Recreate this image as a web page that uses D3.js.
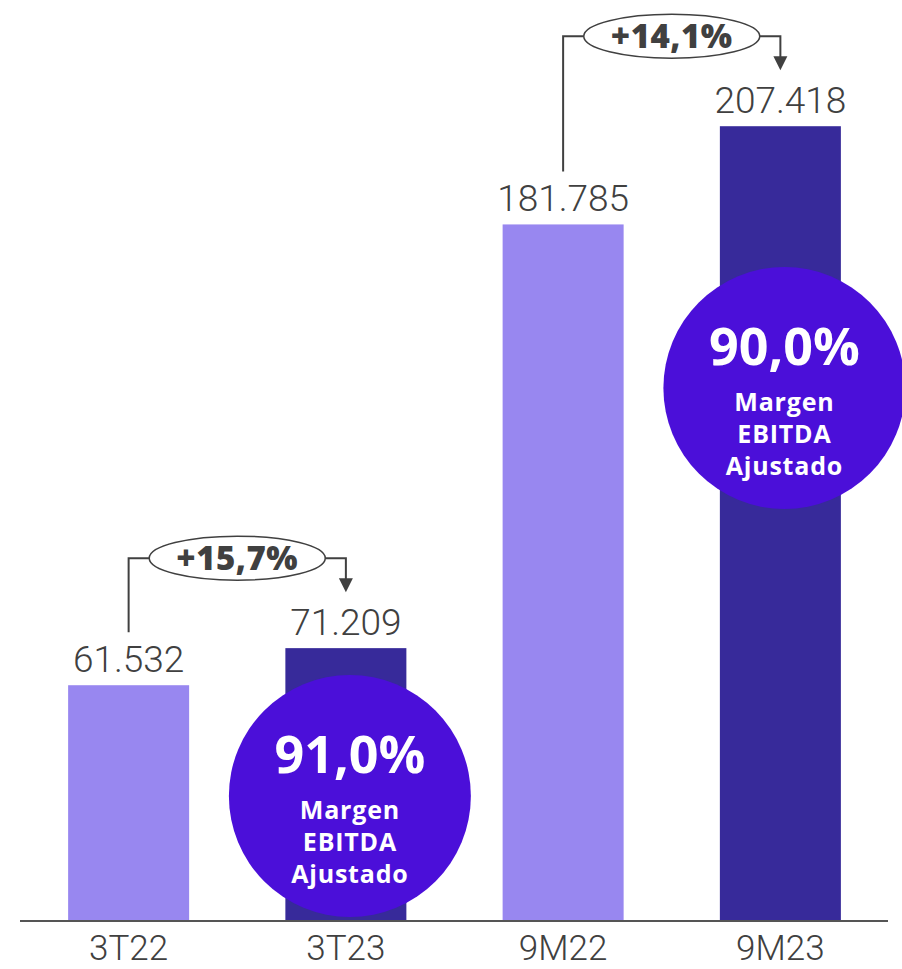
<!DOCTYPE html>
<html>
<head>
<meta charset="utf-8">
<script src="https://cdn.jsdelivr.net/npm/d3@7/dist/d3.min.js"></script>
<style>
  html, body { margin: 0; padding: 0; background: #fff; }
  svg { display: block; }
</style>
</head>
<body>
<svg id="chart" width="902" height="969"></svg>
<script>
// EBITDA ajustado (R$ mil) por período
const categories = ["3T22", "3T23", "9M22", "9M23"];
const values = [61532, 71209, 181785, 207418];
const valueLabels = ["61.532", "71.209", "181.785", "207.418"];
const isCurrent = [false, true, false, true];

// Margem EBITDA ajustado nos períodos atuais
const marginCategories = ["3T23", "9M23"];
const marginLabels = ["91,0%", "90,0%"];
const marginCaption = ["Margen", "EBITDA", "Ajustado"];

// Crescimento entre períodos comparáveis
const growthFrom = ["3T22", "9M22"];
const growthTo = ["3T23", "9M23"];
const growthLabels = ["+15,7%", "+14,1%"];

const baseY = 921;
const svg = d3.select("#chart");

const x = d3.scaleBand()
  .domain(categories)
  .range([20, 889])
  .paddingInner(0.443)
  .paddingOuter(0.2215);

const y = d3.scaleLinear()
  .domain([0, 220000])
  .range([baseY, baseY - 843]);

const valueOf = c => values[categories.indexOf(c)];
const cx = c => x(c) + x.bandwidth() / 2;

const light = "#9887f0", dark = "#372a9a", disc = "#4b0fd9", ink = "#404040";
const font = "Roboto, 'Open Sans', sans-serif";
const boldFont = "'Open Sans', 'Noto Sans', sans-serif";

// bars
svg.append("g").selectAll("rect")
  .data(categories)
  .join("rect")
  .attr("x", d => x(d))
  .attr("width", x.bandwidth())
  .attr("y", d => y(valueOf(d)))
  .attr("height", d => baseY - y(valueOf(d)))
  .attr("fill", (d, i) => isCurrent[i] ? dark : light);

// baseline
svg.append("line")
  .attr("x1", 20).attr("x2", 888)
  .attr("y1", baseY).attr("y2", baseY)
  .attr("stroke", "#555").attr("stroke-width", 2);

// category axis
const xAxis = d3.axisBottom(x).tickSize(0).tickPadding(0);
const axisG = svg.append("g").attr("transform", `translate(0,${baseY})`).call(xAxis);
axisG.select(".domain").remove();
axisG.selectAll("text")
  .attr("y", 39)
  .attr("dy", 0)
  .attr("font-family", font)
  .attr("font-weight", 300)
  .attr("font-size", 35)
  .attr("fill", ink);

// value labels
svg.append("g").selectAll("text")
  .data(categories)
  .join("text")
  .attr("x", d => cx(d))
  .attr("y", d => y(valueOf(d)) - 13)
  .attr("text-anchor", "middle")
  .attr("font-family", font)
  .attr("font-weight", 300)
  .attr("font-size", 37)
  .attr("fill", ink)
  .text((d, i) => valueLabels[i]);

// margin discs
const discR = 121;
const discCy = c => c === "3T23" ? 796 : 388;
const discs = svg.append("g").selectAll("g")
  .data(marginCategories)
  .join("g")
  .attr("transform", d => `translate(${cx(d) + 4},${discCy(d)})`);
discs.append("circle").attr("r", discR).attr("fill", disc);
discs.append("text")
  .attr("y", -23)
  .attr("text-anchor", "middle")
  .attr("font-family", boldFont)
  .attr("font-weight", 700)
  .attr("font-size", 52)
  .attr("fill", "#fff")
  .text((d, i) => marginLabels[i]);
marginCaption.forEach((t, k) => {
  discs.append("text")
    .attr("y", 23 + k * 32)
    .attr("text-anchor", "middle")
    .attr("font-family", boldFont)
    .attr("font-weight", 700)
    .attr("font-size", 25)
    .attr("letter-spacing", 0.8)
    .attr("fill", "#fff")
    .text(t);
});

// growth brackets
growthLabels.forEach((label, i) => {
  const a = growthFrom[i], b = growthTo[i];
  const xa = cx(a), xb = cx(b);
  const yBracket = y(valueOf(b)) - 90;
  const yStart = y(valueOf(a)) - 53;
  const yTip = y(valueOf(b)) - 56;
  const mid = (xa + xb) / 2;
  const rx = 88, ry = 22;
  const g = svg.append("g");
  g.append("path")
    .attr("d", `M${xa},${yStart}V${yBracket}H${mid - rx}`)
    .attr("fill", "none").attr("stroke", ink).attr("stroke-width", 2);
  g.append("path")
    .attr("d", `M${mid + rx},${yBracket}H${xb}V${yTip - 12}`)
    .attr("fill", "none").attr("stroke", ink).attr("stroke-width", 2);
  g.append("path")
    .attr("d", `M${xb - 7},${yTip - 14}L${xb + 7},${yTip - 14}L${xb},${yTip}Z`)
    .attr("fill", ink);
  g.append("ellipse")
    .attr("cx", mid).attr("cy", yBracket)
    .attr("rx", rx).attr("ry", ry)
    .attr("fill", "#fff").attr("stroke", ink).attr("stroke-width", 1.5);
  g.append("text")
    .attr("x", mid).attr("y", yBracket + 12)
    .attr("text-anchor", "middle")
    .attr("font-family", boldFont)
    .attr("font-weight", 800)
    .attr("font-size", 33)
    .attr("letter-spacing", 0.5)
    .attr("fill", ink)
    .text(label);
});
</script>
</body>
</html>
